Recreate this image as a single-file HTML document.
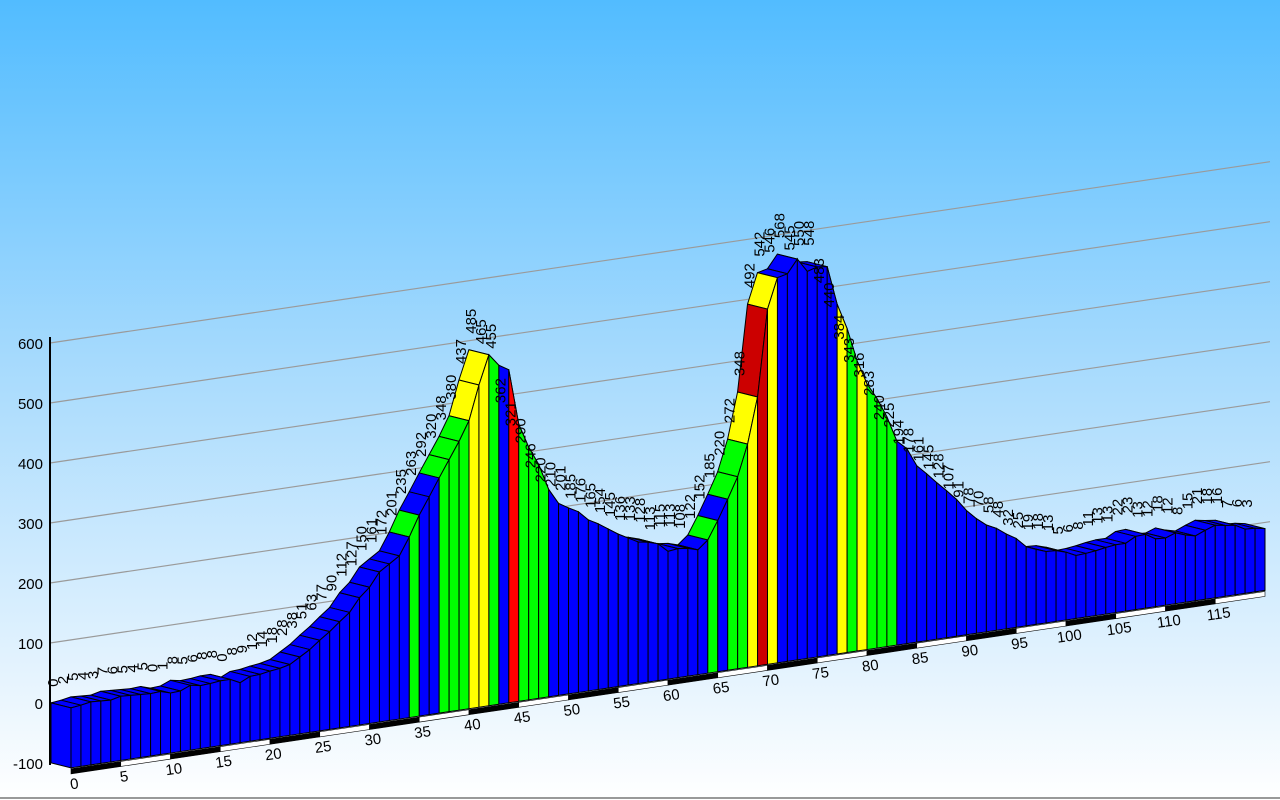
<!DOCTYPE html>
<html><head><meta charset="utf-8"><style>
html,body{margin:0;padding:0;width:1280px;height:800px;overflow:hidden;background:#fff}
svg{display:block;font-family:"Liberation Sans",sans-serif}
</style></head><body>
<svg id="chart" width="1280" height="800" viewBox="0 0 1280 800" xmlns="http://www.w3.org/2000/svg">
<defs><linearGradient id="bg" x1="0" y1="0" x2="0" y2="1">
<stop offset="0" stop-color="#52bcff"/><stop offset="0.45" stop-color="#a6dafd"/><stop offset="0.85" stop-color="#e6f4fe"/><stop offset="1" stop-color="#ffffff"/></linearGradient></defs>
<rect x="0" y="0" width="1280" height="800" fill="url(#bg)"/>
<g id="grid"></g><g id="tops"></g><g id="fronts"></g><g id="xaxis"></g><g id="labels"></g><g id="yaxis"></g>
<line x1="0" y1="798" x2="1280" y2="798" stroke="#999" stroke-width="2"/>
</svg>
<script>
const values = [0,2,5,4,3,7,6,5,4,5,0,1,8,5,6,8,8,0,8,9,12,14,
18,28,38,51,63,77,90,112,127,150,161,172,201,235,263,292,320,348,380,437,485,465,455,
362,321,290,246,220,210,201,185,176,165,154,145,136,133,128,113,115,113,
108,122,152,185,220,272,348,492,542,546,568,545,550,548,483,440,384,343,316,283,
240,225,194,178,161,145,128,107,91,78,70,58,48,32,25,19,18,13,5,6,
8,11,13,13,22,23,13,12,18,12,8,15,21,18,16,7,6,3];
const colorRuns = [['b',34],['g',1],['b',2],['g',3],['y',2],['g',1],['b',1],['r',1],['g',3],['b',16],['g',1],['b',1],['g',2],['y',1],['R',1],['y',1],['b',6],['y',1],['g',1],['y',1],['g',3],['b',37]];
const yTicks = [-100,0,100,200,300,400,500,600];
const xTicks = [0,5,10,15,20,25,30,35,40,45,50,55,60,65,70,75,80,85,90,95,100,105,110,115];
const palette = {b:'#0000ff',g:'#00ff00',y:'#ffff00',r:'#ff0000',R:'#cc0000'};
const NS='http://www.w3.org/2000/svg';
const segColors=[];colorRuns.forEach(r=>{for(let i=0;i<r[1];i++)segColors.push(r[0]);});
const DX=-20, DY=-5, VS=0.6, SLOPE=0.1486;
function xF(k){return 71+9.95*k;}
function yF(x,v){return 708-SLOPE*(x-70)-VS*v;}
function mk(tag,attrs,parent){const e=document.createElementNS(NS,tag);for(const a in attrs)e.setAttribute(a,attrs[a]);parent.appendChild(e);return e;}
const gGrid=document.getElementById('grid'),gTops=document.getElementById('tops'),gFr=document.getElementById('fronts'),gX=document.getElementById('xaxis'),gL=document.getElementById('labels'),gY=document.getElementById('yaxis');
yTicks.forEach(v=>{if(v<0)return;const x1=50,x2=1270;
const l=mk('line',{x1:x1,y1:yF(70,v)+DY,x2:x2,y2:yF(x2+20,v)+DY,stroke:'#9a9a9a','stroke-width':1.2},gGrid);

});
for(let k=values.length-2;k>=0;k--){
const x0=xF(k),x1=xF(k+1),y0=yF(x0,values[k]),y1=yF(x1,values[k+1]);
const p=mk('polygon',{points:`${x0},${y0} ${x1},${y1} ${x1+DX},${y1+DY} ${x0+DX},${y0+DY}`,fill:palette[segColors[k]],stroke:'#000','stroke-width':1,'stroke-linejoin':'round'},gTops);

}
{const x0=xF(0),yt=yF(x0,values[0]),yb=yF(x0,-100);
const c=mk('polygon',{points:`${x0},${yb} ${x0},${yt} ${x0+DX},${yt+DY} ${x0+DX},${yb+DY}`,fill:'#0000ff',stroke:'#000','stroke-width':1},gFr);

}
for(let k=0;k<values.length-1;k++){
const x0=xF(k),x1=xF(k+1);
const p=mk('polygon',{points:`${x0},${yF(x0,-100)} ${x0},${yF(x0,values[k])} ${x1},${yF(x1,values[k+1])} ${x1},${yF(x1,-100)}`,fill:palette[segColors[k]],stroke:'#000','stroke-width':1},gFr);

}
for(let i=0;i<xTicks.length;i++){
const k0=xTicks[i],k1=Math.min(k0+5,values.length-1);
const xa=xF(k0),xb=xF(k1),ya=yF(xa,-100)+1,yb=yF(xb,-100)+1;
const s=mk('polygon',{points:`${xa},${ya} ${xb},${yb} ${xb},${yb+5} ${xa},${ya+5}`,fill:(i%2===0)?'#000':'#fff',stroke:'#000','stroke-width':0.6},gX);


const tx=xF(k0)+4,ty=yF(xF(k0),-100)+21;
const t=mk('text',{x:tx,y:ty,'font-size':15,'text-anchor':'middle',fill:'#000',transform:`rotate(-8 ${tx} ${ty})`},gX);
t.textContent=k0;

}
for(let k=0;k<values.length;k++){
const x=xF(k)+DX+7,y=yF(xF(k),values[k])+DY-16;
const t=mk('text',{x:x,y:y,'font-size':15,fill:'#000',transform:`rotate(-90 ${x} ${y})`},gL);
t.textContent=values[k];

}
{const a=mk('line',{x1:50,y1:337,x2:50,y2:765,stroke:'#000','stroke-width':2},gY);

}
yTicks.forEach(v=>{const y=703-VS*v;
const t=mk('text',{x:43,y:y+6,'font-size':15,'text-anchor':'end',fill:'#000'},gY);
t.textContent=v;

});
</script>
</body></html>
